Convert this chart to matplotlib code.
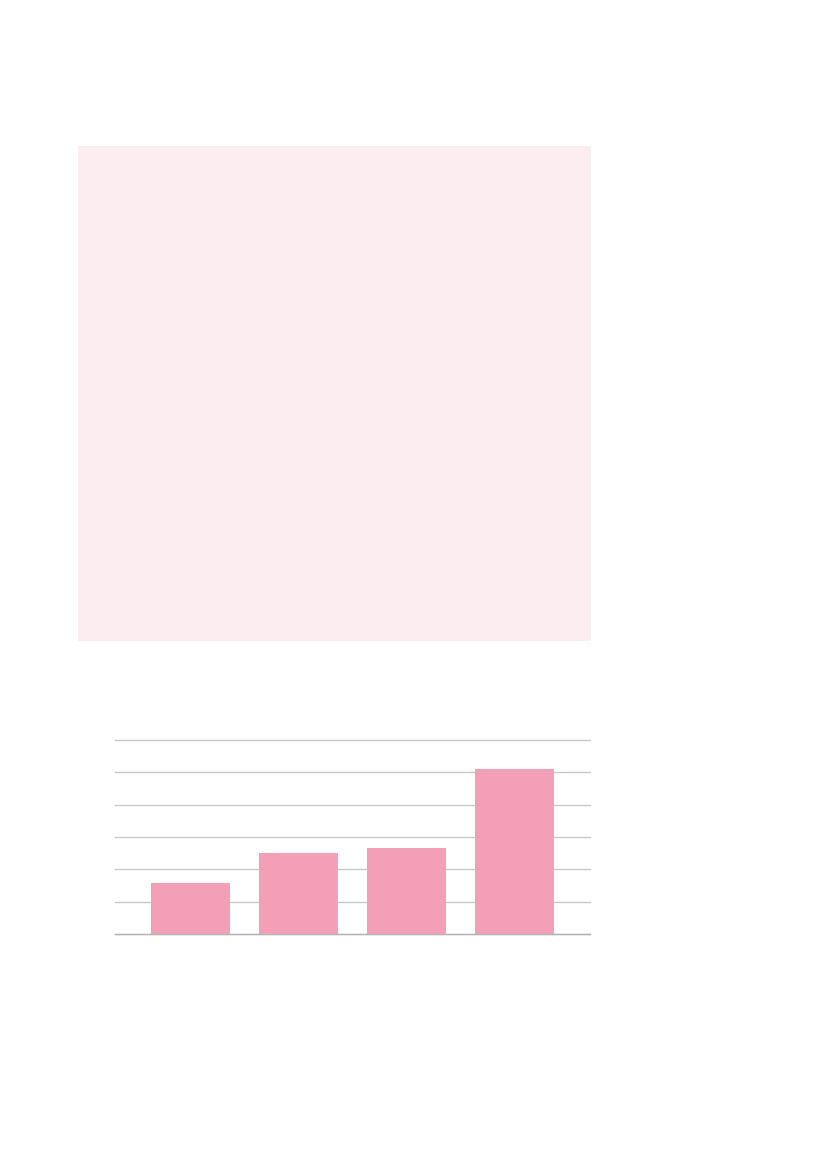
import numpy as np
import matplotlib
matplotlib.use("Agg")
from matplotlib import pyplot as plt
from matplotlib.patches import Rectangle

# bar values (grid step = 1)
categories = ["A", "B", "C", "D"]
values = [1.57, 2.5, 2.67, 5.1]
grid_ticks = [0, 1, 2, 3, 4, 5, 6]

W, H = 827, 1169
fig = plt.figure(figsize=(W / 100, H / 100), dpi=100)

# pale pink panel at the top of the page
fig.patches.append(Rectangle((78 / W, 1 - 641 / H), (591 - 78) / W, (641 - 146) / H,
                             transform=fig.transFigure, facecolor="#fcedf1",
                             edgecolor="none", zorder=0))

ax = fig.add_axes([115 / W, 1 - 934 / H, (590 - 115) / W, (934 - 740) / H])
x = np.arange(len(categories))
ax.bar(x, values, width=0.73, color="#f29fb7", zorder=3)
ax.set_xlim(-0.7, 3.7)
ax.set_ylim(0, 6)
ax.set_yticks(grid_ticks)
ax.yaxis.grid(True, color="#c8c8c8", linewidth=1)
for gl in ax.get_ygridlines():
    gl.set_clip_on(False)
ax.axhline(0, color="#b4b4b4", linewidth=1, zorder=4, clip_on=False)
ax.set_axisbelow(True)
ax.tick_params(left=False, bottom=False, labelleft=False, labelbottom=False)
for s in ax.spines.values():
    s.set_visible(False)
ax.patch.set_alpha(0)

fig.savefig("out.png", dpi=100)
